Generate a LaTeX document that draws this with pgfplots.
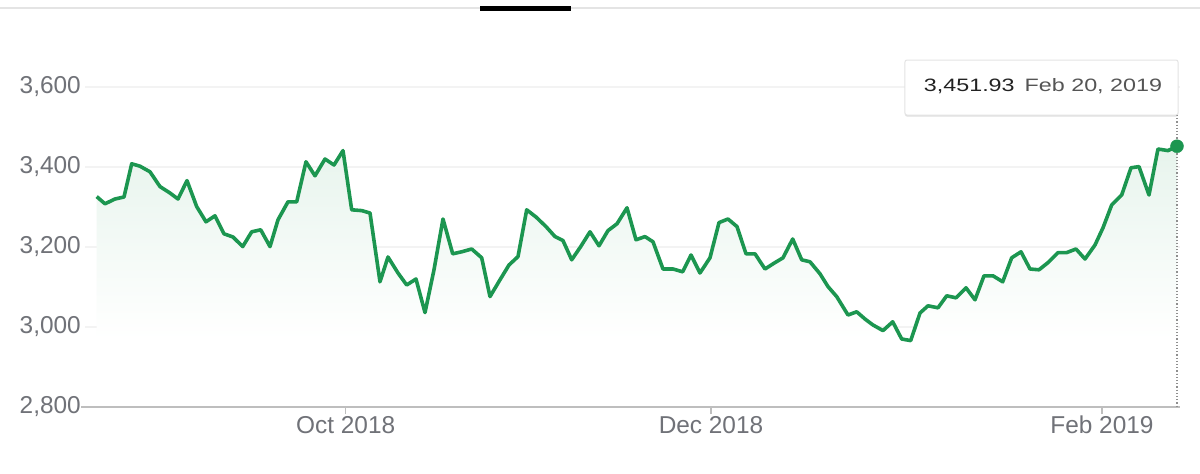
\documentclass[border=0pt]{standalone}
\usepackage{pgfplots}
\pgfplotsset{compat=1.18}
\usepackage{pgfplotstable}
\usetikzlibrary{shadows}
\usepackage{fontspec}
\setmainfont{Liberation Sans}
\newfontfamily\tipfont[FakeStretch=1.3]{Liberation Sans}
\definecolor{lineGreen}{RGB}{28,150,80}
\definecolor{labelgray}{RGB}{112,114,120}
\definecolor{gridgray}{RGB}{243,243,243}
\definecolor{axisgray}{RGB}{190,190,190}
\definecolor{topgray}{RGB}{228,228,228}
\pgfdeclareverticalshading{areafade}{100bp}{color(0bp)=(white); color(38bp)=(white); color(70bp)=(lineGreen!9!white); color(100bp)=(lineGreen!22!white)}
\pgfplotstableread{
x y
96.7 3326
105 3308
115 3320
124 3325
131.7 3408
140 3402
150 3388
160 3351
170 3335
178 3320
187 3366
196.7 3301
206 3263
215 3278
224 3233
233 3225
242.7 3201
251.7 3238
260.7 3243
270 3201
278 3268
288 3313
296.7 3313
306 3413
315 3378
325 3420
334 3405
343 3441
351.7 3293
361.7 3291
370 3285
380 3113
388 3175
398 3135
406.7 3105
416 3120
425 3036
434 3143
443 3270
452.7 3183
461.7 3188
471.7 3195
481.7 3173
490 3076
500 3118
509 3155
518 3176
526.7 3293
536 3275
546 3251
555 3226
563 3216
571.7 3168
580.7 3201
590 3238
599 3203
608 3241
617 3258
627 3298
636 3218
645 3226
653 3213
663 3145
673 3145
682.7 3138
691 3180
700 3135
710 3173
719 3261
728 3270
737 3251
746 3183
755 3183
765 3145
775 3161
783 3173
792.7 3220
801.7 3168
810 3163
820 3133
828 3101
836.7 3076
848 3030
856.7 3038
865 3020
873 3005
883 2991
892.7 3013
901.7 2970
910.7 2966
920 3035
928 3053
938 3048
946.7 3078
956 3073
966 3098
975 3068
984 3128
993 3128
1002.7 3113
1011.7 3173
1021 3188
1030 3145
1039 3143
1048 3161
1058 3186
1066.7 3186
1076 3195
1085 3170
1095 3205
1103 3248
1111.7 3305
1121.7 3330
1131 3398
1139 3401
1149 3330
1158 3445
1168 3441
1177 3451.93
}\pricedata
\begin{document}
\begin{tikzpicture}
\path[use as bounding box] (0,0) rectangle (1200bp,474bp);
\fill[white] (0,0) rectangle (1200bp,474bp);
\draw[topgray, line width=2bp] (0,466bp) -- (1200bp,466bp);
\draw[black, line width=4.5bp] (480bp,465.5bp) -- (571bp,465.5bp);
\begin{axis}[
  at={(80bp,67bp)}, anchor=south west,
  scale only axis, width=1100bp, height=320bp,
  xmin=80, xmax=1180, ymin=2800, ymax=3600,
  clip=false,
  axis line style={draw=none},
  ytick={2800,3000,3200,3400,3600},
  yticklabels={{2,800},{3,000},{3,200},{3,400},{3,600}},
  xtick={345.7,711,1102},
  xticklabels={Oct 2018,Dec 2018,Feb 2019},
  tick pos=left, tick align=outside,
  major tick length=7bp,
  xtick style={draw=axisgray, line width=1.2bp},
  ytick style={draw=none},
  ticklabel style={font=\fontsize{24.5}{27}\selectfont, text=labelgray},
  yticklabel style={inner sep=0pt, xshift=8bp},
  xticklabel style={inner sep=0pt, yshift=-2bp},
  /pgf/number format/assume math mode=true,
]
\foreach \g in {3000,3200,3400,3600} {
  \edef\temp{\noexpand\draw[gridgray, line width=1.2bp] (axis cs:85,\g) -- (axis cs:1180,\g);}
  \temp
}
\addplot[draw=none, shading=areafade] table[x=x,y=y] {\pricedata} \closedcycle;
\draw[axisgray, line width=2.2bp] (axis cs:81,2800) -- (axis cs:1180,2800);
\draw[axisgray!75!black, line width=1.2bp, dotted] (axis cs:1177,3530) -- (axis cs:1177,2800);
\addplot[lineGreen, line width=3.6bp, line join=round] table[x=x,y=y] {\pricedata};
\addplot[only marks, mark=*, mark size=6.5bp, color=lineGreen] coordinates {(1177,3451.93)};
\node[draw=topgray, fill=white, line width=1bp, rounded corners=2bp, minimum width=273bp, minimum height=55bp, inner sep=0pt,
  drop shadow={shadow xshift=0bp, shadow yshift=-1.5bp, opacity=0.25}] at (axis cs:1041.5,3598.75) {};
\node[font=\tipfont\fontsize{18}{20}\selectfont, inner sep=0pt] at (axis cs:1043,3602.5)
  {\textcolor[RGB]{34,34,34}{3,451.93}\hspace{10bp}\textcolor[RGB]{85,85,85}{Feb 20, 2019}};
\end{axis}
\end{tikzpicture}
\end{document}
